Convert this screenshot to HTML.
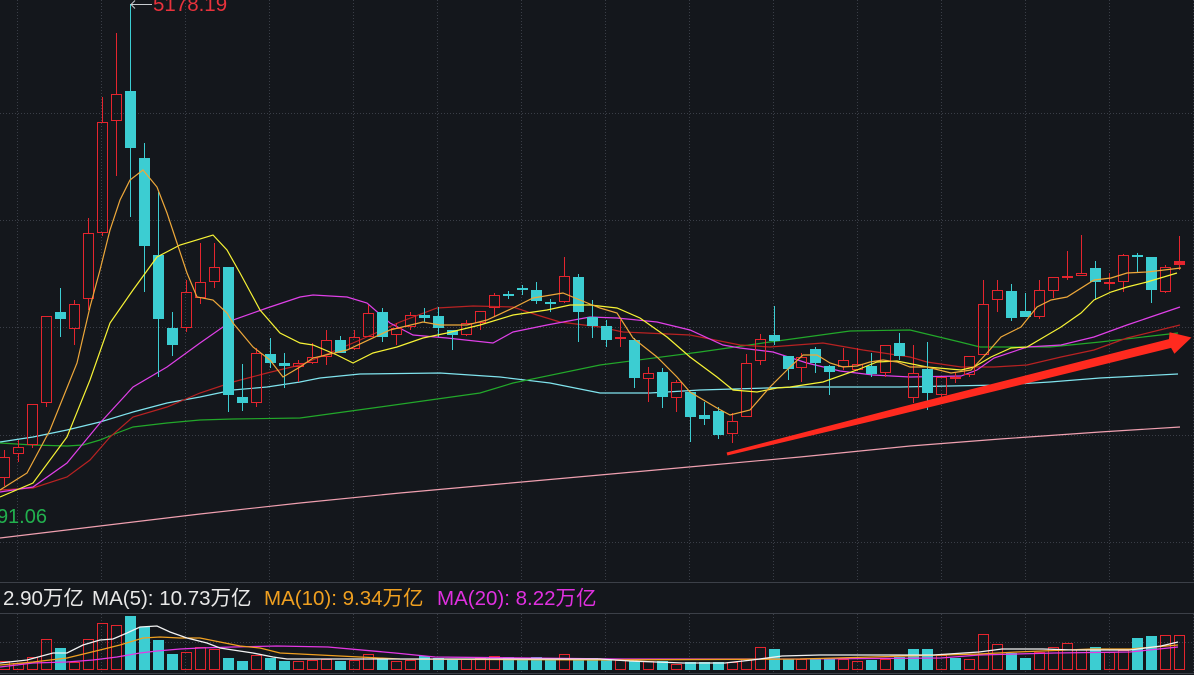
<!DOCTYPE html>
<html><head><meta charset="utf-8"><style>
html,body{margin:0;padding:0;background:#14171c;}
svg{display:block;}
text{font-family:"Liberation Sans","Noto Sans CJK SC",sans-serif;}
</style></head><body>
<svg width="1194" height="675" viewBox="0 0 1194 675" xmlns="http://www.w3.org/2000/svg">
<rect width="1194" height="675" fill="#14171c"/>
<g stroke="#3a3e47" stroke-width="1" stroke-dasharray="1,2" fill="none">
<path d="M0 113.5H1194M0 220.5H1194M0 327.5H1194M0 435.5H1194M0 542.5H1194"/>
<path d="M17.5 0V582M101.5 0V582M185.5 0V582M269.5 0V582M353.5 0V582M437.5 0V582M521.5 0V582M605.5 0V582M689.5 0V582M773.5 0V582M857.5 0V582M941.5 0V582M1025.5 0V582M1109.5 0V582M1193.5 0V582"/>
<path d="M0 642.5H1194"/>
<path d="M17.5 614V672M101.5 614V672M185.5 614V672M269.5 614V672M353.5 614V672M437.5 614V672M521.5 614V672M605.5 614V672M689.5 614V672M773.5 614V672M857.5 614V672M941.5 614V672M1025.5 614V672M1109.5 614V672M1193.5 614V672"/>
</g>
<path d="M0 582.5H1194M0 613.5H1194M0 673.5H1194" stroke="#3c4048" stroke-width="1"/>

<polyline fill="none" stroke="#f0a0b0" stroke-width="1.2" points="0,538 100,526 200,514 300,503 400,493 500,484 600,475 700,466 800,457 910,446 1000,439 1100,432 1180,427"/>
<polyline fill="none" stroke="#80e4ee" stroke-width="1.2" points="0,442 33,437 67,430 100,422 133,412 167,403 200,397 233,390 267,387 300,382 320,378 360,374 440,373 500,377 550,383 600,393 650,393 700,390 800,387 900,387 1000,385 1050,382 1100,378 1178,374"/>
<polyline fill="none" stroke="#22a82a" stroke-width="1.2" points="0,443 33,445 67,446 83,445 100,440 117,433 133,427 167,423 200,420 233,419 300,418 380,407 480,393 513,383 600,365 700,352 770,342 850,331 910,330 960,342 980,347 1050,347 1100,342 1178,333"/>
<polyline fill="none" stroke="#b82222" stroke-width="1.2" points="0,490 33,488 67,477 90,460 110,437 133,417 167,407 200,393 233,382 267,373 300,365 320,357 360,340 400,322 437,308 473,306 513,307 537,315 560,322 600,327 623,332 690,335 740,345 770,347 823,343 863,350 910,357 927,362 961,367 994,367 1027,365 1061,357 1094,350 1127,338 1180,325"/>
<polyline fill="none" stroke="#e040e8" stroke-width="1.2" points="0,492 33,487 67,463 100,423 133,387 167,367 200,343 233,320 267,308 300,297 313,295 347,297 367,303 390,323 413,335 447,338 493,343 513,332 547,325 590,317 617,318 657,322 690,330 723,345 740,348 773,352 807,363 840,371 873,375 910,377 961,376 977,370 994,358 1027,347 1061,345 1094,337 1127,325 1180,307"/>

<g stroke="#e4252e" stroke-width="1" fill="none">
<path d="M4.5 450V457M4.5 478V486M18.5 440V447M18.5 454V462M32.5 445V448M46.5 403V407M74.5 300V304M74.5 329V345M88.5 218V233M88.5 299V310M102.5 97V122M102.5 233V236M116.5 33V94M116.5 121V176M186.5 280V292M186.5 328V332M200.5 243V282M200.5 298V304M214.5 243V267M214.5 282V288M256.5 348V353M256.5 403V407M298.5 360V363M298.5 367V382M312.5 343V357M312.5 363V364M326.5 330V340M326.5 357V365M354.5 330V337M354.5 349V350M368.5 305V313M396.5 323V328M396.5 335V345M410.5 312V315M410.5 327V330M466.5 320V323M466.5 335V336M480.5 323V330M494.5 293V295M494.5 308V316M564.5 257V276M564.5 302V303M620.5 320V337M620.5 339V347M648.5 367V373M648.5 379V402M676.5 380V382M676.5 398V412M732.5 413V421M732.5 434V443M746.5 354V363M760.5 334V339M760.5 361V365M801.5 353V357M801.5 368V382M843.5 348V360M843.5 367V370M857.5 348V364M857.5 370V371M885.5 373V377M913.5 345V373M913.5 398V403M941.5 395V397M955.5 373V377M955.5 379V383M969.5 375V377M983.5 280V304M997.5 280V290M997.5 300V312M1039.5 280V290M1039.5 317V319M1053.5 291V298M1067.5 251V276M1067.5 278V280M1081.5 235V273M1109.5 273V282M1109.5 284V290M1123.5 254V255M1123.5 282V292M1165.5 265V267M1165.5 292V293M1179.5 236V261M1179.5 265V270"/>
<rect x="-0.5" y="457.5" width="10" height="20"/>
<rect x="13.5" y="447.5" width="10" height="6"/>
<rect x="27.5" y="404.5" width="10" height="40"/>
<rect x="41.5" y="316.5" width="10" height="86"/>
<rect x="69.5" y="304.5" width="10" height="24"/>
<rect x="83.5" y="233.5" width="10" height="65"/>
<rect x="97.5" y="122.5" width="10" height="110"/>
<rect x="111.5" y="94.5" width="10" height="26"/>
<rect x="181.5" y="292.5" width="10" height="35"/>
<rect x="195.5" y="282.5" width="10" height="15"/>
<rect x="209.5" y="267.5" width="10" height="14"/>
<rect x="251.5" y="353.5" width="10" height="49"/>
<rect x="293.5" y="363.5" width="10" height="3"/>
<rect x="307.5" y="357.5" width="10" height="5"/>
<rect x="321.5" y="340.5" width="10" height="16"/>
<rect x="349.5" y="337.5" width="10" height="11"/>
<rect x="363.5" y="313.5" width="10" height="23"/>
<rect x="391.5" y="328.5" width="10" height="6"/>
<rect x="405.5" y="315.5" width="10" height="11"/>
<rect x="461.5" y="323.5" width="10" height="11"/>
<rect x="475.5" y="311.5" width="10" height="11"/>
<rect x="489.5" y="295.5" width="10" height="12"/>
<rect x="559.5" y="276.5" width="10" height="25"/>
<rect x="615.5" y="337.5" width="10" height="1"/>
<rect x="643.5" y="373.5" width="10" height="5"/>
<rect x="671.5" y="382.5" width="10" height="15"/>
<rect x="727.5" y="421.5" width="10" height="12"/>
<rect x="741.5" y="363.5" width="10" height="53"/>
<rect x="755.5" y="339.5" width="10" height="21"/>
<rect x="796.5" y="357.5" width="10" height="10"/>
<rect x="838.5" y="360.5" width="10" height="6"/>
<rect x="852.5" y="364.5" width="10" height="5"/>
<rect x="880.5" y="345.5" width="10" height="27"/>
<rect x="908.5" y="373.5" width="10" height="24"/>
<rect x="936.5" y="377.5" width="10" height="17"/>
<rect x="950.5" y="377.5" width="10" height="1"/>
<rect x="964.5" y="356.5" width="10" height="18"/>
<rect x="978.5" y="304.5" width="10" height="50"/>
<rect x="992.5" y="290.5" width="10" height="9"/>
<rect x="1034.5" y="290.5" width="10" height="26"/>
<rect x="1048.5" y="277.5" width="10" height="13"/>
<rect x="1062.5" y="276.5" width="10" height="1"/>
<rect x="1076.5" y="273.5" width="10" height="2"/>
<rect x="1104.5" y="282.5" width="10" height="1"/>
<rect x="1118.5" y="255.5" width="10" height="26"/>
<rect x="1160.5" y="267.5" width="10" height="24"/>
<rect x="1174.5" y="261.5" width="10" height="3" fill="#e4252e"/>
</g>

<g fill="#3ccdd2">
<rect x="60" y="288" width="1" height="49"/><rect x="55" y="312" width="11" height="7"/>
<rect x="130" y="4" width="1" height="213"/><rect x="125" y="91" width="11" height="57"/>
<rect x="144" y="143" width="1" height="149"/><rect x="139" y="158" width="11" height="88"/>
<rect x="158" y="192" width="1" height="185"/><rect x="153" y="255" width="11" height="64"/>
<rect x="172" y="312" width="1" height="44"/><rect x="167" y="328" width="11" height="17"/>
<rect x="228" y="267" width="1" height="145"/><rect x="223" y="267" width="11" height="128"/>
<rect x="242" y="364" width="1" height="47"/><rect x="237" y="397" width="11" height="6"/>
<rect x="270" y="338" width="1" height="30"/><rect x="265" y="354" width="11" height="9"/>
<rect x="284" y="353" width="1" height="35"/><rect x="279" y="363" width="11" height="3"/>
<rect x="340" y="336" width="1" height="17"/><rect x="335" y="340" width="11" height="13"/>
<rect x="382" y="308" width="1" height="34"/><rect x="377" y="312" width="11" height="25"/>
<rect x="424" y="308" width="1" height="14"/><rect x="419" y="315" width="11" height="3"/>
<rect x="438" y="307" width="1" height="30"/><rect x="433" y="316" width="11" height="12"/>
<rect x="452" y="330" width="1" height="20"/><rect x="447" y="330" width="11" height="5"/>
<rect x="508" y="291" width="1" height="8"/><rect x="503" y="294" width="11" height="2"/>
<rect x="522" y="285" width="1" height="10"/><rect x="517" y="288" width="11" height="2"/>
<rect x="536" y="282" width="1" height="22"/><rect x="531" y="290" width="11" height="11"/>
<rect x="550" y="299" width="1" height="13"/><rect x="545" y="302" width="11" height="2"/>
<rect x="578" y="274" width="1" height="68"/><rect x="573" y="277" width="11" height="35"/>
<rect x="592" y="300" width="1" height="38"/><rect x="587" y="317" width="11" height="9"/>
<rect x="606" y="320" width="1" height="27"/><rect x="601" y="326" width="11" height="14"/>
<rect x="634" y="338" width="1" height="50"/><rect x="629" y="340" width="11" height="38"/>
<rect x="662" y="368" width="1" height="40"/><rect x="657" y="372" width="11" height="25"/>
<rect x="690" y="392" width="1" height="50"/><rect x="685" y="392" width="11" height="25"/>
<rect x="704" y="402" width="1" height="23"/><rect x="699" y="415" width="11" height="4"/>
<rect x="718" y="407" width="1" height="32"/><rect x="713" y="411" width="11" height="24"/>
<rect x="774" y="306" width="1" height="39"/><rect x="769" y="335" width="11" height="6"/>
<rect x="788" y="356" width="1" height="24"/><rect x="783" y="356" width="11" height="13"/>
<rect x="815" y="347" width="1" height="26"/><rect x="810" y="349" width="11" height="14"/>
<rect x="829" y="365" width="1" height="30"/><rect x="824" y="366" width="11" height="6"/>
<rect x="871" y="353" width="1" height="24"/><rect x="866" y="366" width="11" height="8"/>
<rect x="899" y="333" width="1" height="27"/><rect x="894" y="343" width="11" height="13"/>
<rect x="927" y="342" width="1" height="68"/><rect x="922" y="369" width="11" height="24"/>
<rect x="1011" y="284" width="1" height="37"/><rect x="1006" y="291" width="11" height="27"/>
<rect x="1025" y="293" width="1" height="24"/><rect x="1020" y="311" width="11" height="6"/>
<rect x="1095" y="261" width="1" height="39"/><rect x="1090" y="268" width="11" height="14"/>
<rect x="1137" y="253" width="1" height="19"/><rect x="1132" y="255" width="11" height="2"/>
<rect x="1151" y="257" width="1" height="46"/><rect x="1146" y="257" width="11" height="33"/>
</g>

<polyline fill="none" stroke="#f7f335" stroke-width="1.2" points="0,497 33,483 67,437 90,380 110,323 133,290 157,257 180,245 213,235 227,250 240,273 260,310 280,333 300,343 313,345 337,355 353,363 373,353 397,347 423,338 447,333 480,325 513,315 547,310 570,305 590,305 617,308 640,318 667,337 690,357 717,377 733,390 757,392 777,388 790,387 823,382 857,370 877,362 897,361 927,367 961,370 974,367 991,357 1011,348 1027,347 1044,337 1061,327 1081,313 1094,300 1111,292 1127,287 1147,282 1177,273"/>
<polyline fill="none" stroke="#eea83a" stroke-width="1.2" points="0,490 27,473 50,430 77,363 90,307 100,270 110,230 120,200 130,180 143,170 157,187 167,213 177,243 187,273 197,297 213,300 227,313 233,323 253,347 270,360 283,377 300,367 313,358 347,350 390,330 423,322 440,325 467,325 487,320 513,308 533,298 563,293 580,300 600,308 617,313 633,338 657,357 677,377 690,392 717,408 730,415 750,410 770,387 790,367 803,355 817,355 830,363 843,367 857,366 870,362 883,360 897,362 910,367 927,367 951,373 971,370 987,353 1001,337 1021,327 1037,307 1051,300 1067,297 1094,280 1111,278 1127,273 1147,272 1181,268"/>

<polygon fill="#ff2a1f" points="726.6,452.5 899.2,407.5 1168.9,339.1 1169.6,332.3 1191.5,337.5 1174.4,353.7 1171.1,347.9 900.8,414.3 727.4,455.5"/>

<path d="M131 4.5H152M135 0.5L131 4.5L135 8.5" stroke="#c8ccd0" stroke-width="1" fill="none"/>
<text x="153" y="11" font-size="20.5" fill="#e8323c">5178.19</text>
<text x="47" y="523" font-size="20" fill="#22b04e" text-anchor="end">91.06</text>

<g stroke="#e4252e" stroke-width="1" fill="none">
<rect x="-0.5" y="661.5" width="10" height="8"/>
<rect x="13.5" y="663.5" width="10" height="6"/>
<rect x="27.5" y="657.5" width="10" height="12"/>
<rect x="41.5" y="639.5" width="10" height="30"/>
<rect x="69.5" y="662.5" width="10" height="7"/>
<rect x="83.5" y="639.5" width="10" height="30"/>
<rect x="97.5" y="623.5" width="10" height="46"/>
<rect x="111.5" y="625.5" width="10" height="44"/>
<rect x="181.5" y="652.5" width="10" height="17"/>
<rect x="195.5" y="647.5" width="10" height="22"/>
<rect x="209.5" y="649.5" width="10" height="20"/>
<rect x="251.5" y="655.5" width="10" height="14"/>
<rect x="293.5" y="661.5" width="10" height="8"/>
<rect x="307.5" y="660.5" width="10" height="9"/>
<rect x="321.5" y="659.5" width="10" height="10"/>
<rect x="349.5" y="660.5" width="10" height="9"/>
<rect x="363.5" y="654.5" width="10" height="15"/>
<rect x="391.5" y="661.5" width="10" height="8"/>
<rect x="405.5" y="660.5" width="10" height="9"/>
<rect x="461.5" y="659.5" width="10" height="10"/>
<rect x="475.5" y="658.5" width="10" height="11"/>
<rect x="489.5" y="656.5" width="10" height="13"/>
<rect x="559.5" y="654.5" width="10" height="15"/>
<rect x="615.5" y="660.5" width="10" height="9"/>
<rect x="643.5" y="661.5" width="10" height="8"/>
<rect x="671.5" y="664.5" width="10" height="5"/>
<rect x="727.5" y="662.5" width="10" height="7"/>
<rect x="741.5" y="659.5" width="10" height="10"/>
<rect x="755.5" y="647.5" width="10" height="22"/>
<rect x="796.5" y="659.5" width="10" height="10"/>
<rect x="838.5" y="659.5" width="10" height="10"/>
<rect x="852.5" y="661.5" width="10" height="8"/>
<rect x="880.5" y="659.5" width="10" height="10"/>
<rect x="936.5" y="655.5" width="10" height="14"/>
<rect x="964.5" y="659.5" width="10" height="10"/>
<rect x="978.5" y="634.5" width="10" height="35"/>
<rect x="992.5" y="644.5" width="10" height="25"/>
<rect x="1034.5" y="652.5" width="10" height="17"/>
<rect x="1048.5" y="647.5" width="10" height="22"/>
<rect x="1062.5" y="643.5" width="10" height="26"/>
<rect x="1076.5" y="649.5" width="10" height="20"/>
<rect x="1104.5" y="652.5" width="10" height="17"/>
<rect x="1118.5" y="650.5" width="10" height="19"/>
<rect x="1160.5" y="635.5" width="10" height="34"/>
<rect x="1174.5" y="635.5" width="10" height="34"/>
</g>
<g fill="#3ccdd2">
<rect x="55" y="648" width="11" height="22"/>
<rect x="125" y="616" width="11" height="54"/>
<rect x="139" y="627" width="11" height="43"/>
<rect x="153" y="640" width="11" height="30"/>
<rect x="167" y="654" width="11" height="16"/>
<rect x="223" y="658" width="11" height="12"/>
<rect x="237" y="661" width="11" height="9"/>
<rect x="265" y="658" width="11" height="12"/>
<rect x="279" y="661" width="11" height="9"/>
<rect x="335" y="661" width="11" height="9"/>
<rect x="377" y="658" width="11" height="12"/>
<rect x="419" y="656" width="11" height="14"/>
<rect x="433" y="658" width="11" height="12"/>
<rect x="447" y="659" width="11" height="11"/>
<rect x="503" y="657" width="11" height="13"/>
<rect x="517" y="660" width="11" height="10"/>
<rect x="531" y="657" width="11" height="13"/>
<rect x="545" y="660" width="11" height="10"/>
<rect x="573" y="659" width="11" height="11"/>
<rect x="587" y="658" width="11" height="12"/>
<rect x="601" y="660" width="11" height="10"/>
<rect x="629" y="661" width="11" height="9"/>
<rect x="657" y="661" width="11" height="9"/>
<rect x="685" y="662" width="11" height="8"/>
<rect x="699" y="662" width="11" height="8"/>
<rect x="713" y="662" width="11" height="8"/>
<rect x="769" y="649" width="11" height="21"/>
<rect x="783" y="659" width="11" height="11"/>
<rect x="810" y="659" width="11" height="11"/>
<rect x="824" y="658" width="11" height="12"/>
<rect x="866" y="660" width="11" height="10"/>
<rect x="894" y="657" width="11" height="13"/>
<rect x="908" y="649" width="11" height="21"/>
<rect x="922" y="649" width="11" height="21"/>
<rect x="950" y="658" width="11" height="12"/>
<rect x="1006" y="653" width="11" height="17"/>
<rect x="1020" y="658" width="11" height="12"/>
<rect x="1090" y="647" width="11" height="23"/>
<rect x="1132" y="638" width="11" height="32"/>
<rect x="1146" y="636" width="11" height="34"/>
</g>

<polyline fill="none" stroke="#e438e4" stroke-width="1.3" points="0,667 33,663 67,662 93,660 117,657 140,653 157,651 180,649 200,648 233,647 277,646 328,647 395,653 435,657 620,659 800,659 941,658 979,655 1055,653 1130,652 1178,647"/>
<polyline fill="none" stroke="#f0a020" stroke-width="1.3" points="0,665 33,662 67,658 100,650 120,645 143,638 160,637 180,638 200,638 220,642 240,646 260,648 280,653 300,654 400,659 600,660 800,659 979,654 1017,652 1092,649 1130,649 1178,645"/>
<polyline fill="none" stroke="#f2f2f2" stroke-width="1.3" points="0,663 27,660 53,653 67,653 83,645 100,640 113,639 127,633 140,627 157,626 170,632 187,638 207,643 220,648 233,650 253,653 273,657 287,659 300,659 400,659 600,659 630,661 683,663 725,663 752,660 782,656 820,655 933,655 979,652 1002,649 1043,649 1073,650 1130,650 1161,646 1178,642"/>

<text y="605" font-size="20.5"><tspan x="3" fill="#e8e8e8">2.90万亿</tspan><tspan x="92" fill="#e8e8e8">MA(5): 10.73万亿</tspan><tspan x="264" fill="#f0a020">MA(10): 9.34万亿</tspan><tspan x="437" fill="#e030e0">MA(20): 8.22万亿</tspan></text>
</svg>
</body></html>
